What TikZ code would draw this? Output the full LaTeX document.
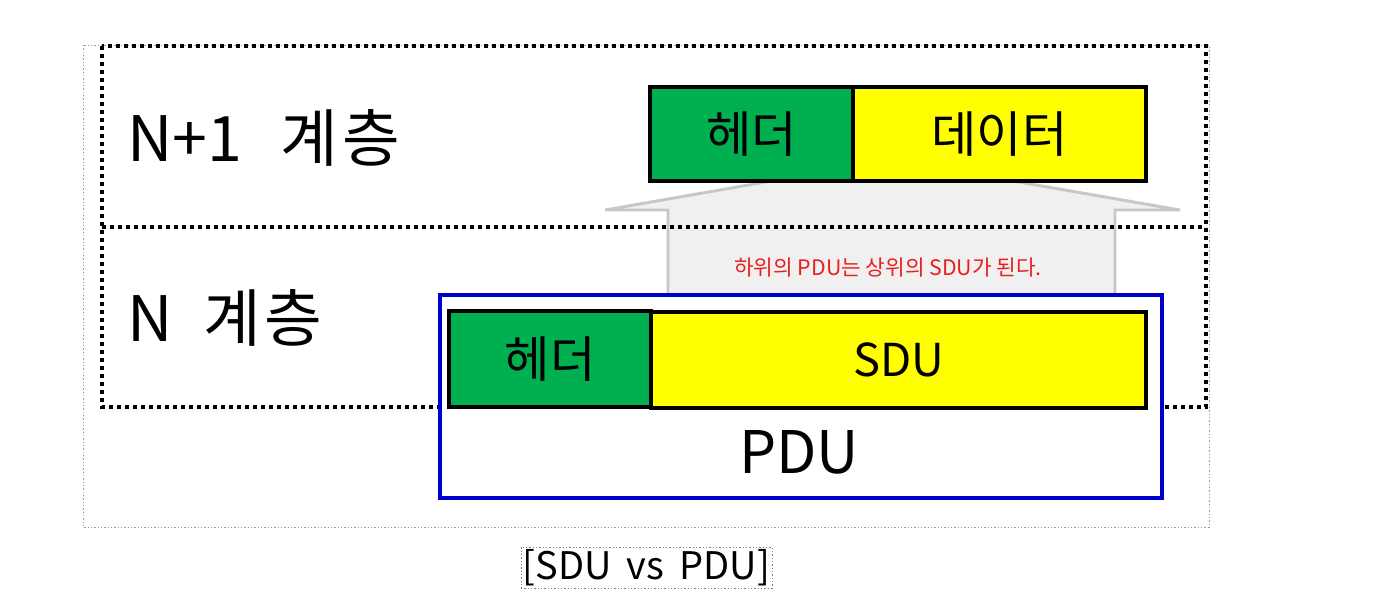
\documentclass[tikz,border=0pt]{standalone}
\usepackage{fontspec}
\setmainfont{Noto Sans CJK KR}
\definecolor{hdrgreen}{RGB}{0,176,80}
\definecolor{datayellow}{RGB}{255,255,0}
\definecolor{pdublue}{RGB}{0,0,204}
\definecolor{notered}{RGB}{235,30,30}
\begin{document}
\begin{tikzpicture}[x=0.75pt,y=-0.75pt,
  cell/.style={draw=black,line width=3pt,inner sep=0pt,font=\fontsize{37}{37}\selectfont},
  layertxt/.style={anchor=west,inner sep=0pt,font=\fontsize{47}{47}\selectfont},
  layerline/.style={line width=3pt,dash pattern=on 3pt off 3pt},
  outerline/.style={gray!80,line width=0.6pt,dash pattern=on 1pt off 1.5pt}]
\useasboundingbox (0,0) rectangle (1375,616);
% outer frame
\draw[outerline] (83,45) rectangle (1209,527);
% arrow
\coordinate (aTip) at (892,160);
\filldraw[fill=black!6,draw=black!22,line width=2.2pt,line join=miter]
  (668,300) -- (668,210) -- (605,210) -- (aTip) -- (1180,210) -- (1115,210) -- (1115,300);
% layers
\draw[layerline] (102,46) rectangle (1206,407);
\draw[layerline] (102,227) -- (1206,227);
\node[layertxt] (l1) at (127,138) {N+1\hspace{0.62em}계\hspace{0.06em}층};
\node[layertxt] (l0) at (127,318) {N\hspace{0.5em}계\hspace{0.05em}층};
% red note
\node[text=notered,font=\fontsize{16}{16}\selectfont,inner sep=0pt] (note) at (888,268) {하위의 PDU는 상위의 SDU가 된다.};
% PDU frame
\node[draw=pdublue,fill=white,line width=2.4pt,minimum width={722*0.75pt},minimum height={203*0.75pt},inner sep=0pt] (pdu) at (801,396.5) {};
\node[font=\fontsize{44}{44}\selectfont,inner sep=0pt] (pdutxt) at (799,452) {PDU};
% boxes
\node[cell,fill=hdrgreen,minimum width={203*0.75pt},minimum height={94*0.75pt}] (h1) at (751.5,134) {헤더};
\node[cell,fill=datayellow,minimum width={293*0.75pt},minimum height={94*0.75pt}] (d1) at (999.5,134) {데이터};
\node[cell,fill=hdrgreen,minimum width={202*0.75pt},minimum height={96*0.75pt}] (h0) at (550,359) {헤더};
\node[cell,fill=datayellow,minimum width={495*0.75pt},minimum height={96*0.75pt},font=\fontsize{34}{34}\selectfont] (d0) at (898.5,360) {SDU};
% caption
\node[draw=gray,line width=0.6pt,dash pattern=on 1pt off 1.5pt,minimum width={251*0.75pt},minimum height={41*0.75pt},inner sep=0pt,font=\fontsize{28.5}{28.5}\selectfont] (cap) at (646.5,567.5) {[SDU\hspace{0.4em}vs\hspace{0.4em}PDU]};
\end{tikzpicture}
\end{document}
